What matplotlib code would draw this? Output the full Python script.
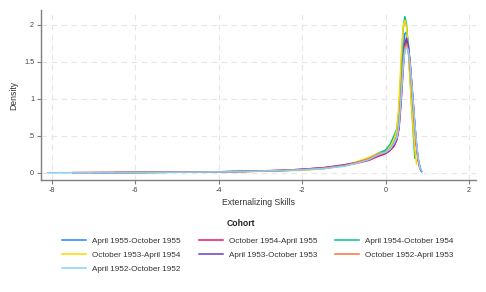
import numpy as np
import matplotlib
matplotlib.use("Agg")
import matplotlib.pyplot as plt

nan = np.nan

# common grid of externalizing skill values
skill = [-8.1, -7.5, -7, -6.5, -6, -5.5, -5, -4.5, -4, -3.5, -3, -2.5, -2, -1.5, -1,
         -0.7, -0.4, -0.2, 0, 0.1, 0.2, 0.27, 0.32, 0.37, 0.42, 0.46, 0.5, 0.54,
         0.58, 0.62, 0.66, 0.7, 0.74, 0.78, 0.82, 0.86]

apr1955_oct1955 = [nan, nan, 0.004, 0.005, 0.007, 0.008, 0.01, 0.012, 0.014, 0.02, 0.025, 0.032,
                   0.045, 0.06, 0.1, 0.14, 0.19, 0.25, 0.29, 0.33, 0.42, 0.5, 0.72, 1.15, 1.65,
                   1.88, 1.9, 1.76, 1.5, 1.2, 0.92, 0.62, 0.36, 0.18, 0.07, 0.02]
oct1954_apr1955 = [nan, 0.004, 0.005, 0.006, 0.007, 0.009, 0.01, 0.012, 0.015, 0.02, 0.028, 0.035,
                   0.048, 0.07, 0.1, 0.13, 0.17, 0.22, 0.26, 0.3, 0.36, 0.45, 0.6, 0.95, 1.4,
                   1.7, 1.77, 1.7, 1.52, 1.25, 0.95, 0.64, 0.37, 0.18, 0.07, nan]
apr1954_oct1954 = [nan, nan, nan, nan, 0.006, 0.008, 0.01, 0.012, 0.015, 0.02, 0.026, 0.03,
                   0.042, 0.06, 0.1, 0.14, 0.2, 0.26, 0.31, 0.38, 0.5, 0.6, 0.85, 1.4, 1.95,
                   2.11, 2.0, 1.72, 1.32, 0.92, 0.55, 0.2, nan, nan, nan, nan]
oct1953_apr1954 = [nan, nan, nan, 0.004, 0.006, 0.008, 0.01, 0.013, 0.016, 0.02, 0.022, 0.03,
                   0.035, 0.058, 0.1, 0.15, 0.21, 0.26, 0.28, 0.34, 0.45, 0.58, 0.95, 1.55, 1.98,
                   2.06, 1.97, 1.68, 1.3, 0.92, 0.6, 0.32, 0.12, nan, nan, nan]
apr1953_oct1953 = [nan, nan, nan, 0.005, 0.008, 0.01, 0.012, 0.014, 0.016, 0.02, 0.026, 0.034,
                   0.05, 0.07, 0.11, 0.14, 0.18, 0.24, 0.27, 0.31, 0.38, 0.46, 0.62, 1.0, 1.45,
                   1.75, 1.82, 1.73, 1.52, 1.23, 0.93, 0.63, 0.37, 0.19, 0.07, 0.02]
oct1952_apr1953 = [nan, 0.004, 0.005, 0.006, 0.007, 0.008, 0.01, 0.012, 0.014, 0.018, 0.024, 0.032,
                   0.045, 0.065, 0.1, 0.14, 0.19, 0.25, 0.28, 0.32, 0.4, 0.48, 0.68, 1.1, 1.5,
                   1.7, 1.74, 1.65, 1.45, 1.17, 0.88, 0.6, 0.34, 0.16, 0.06, nan]
apr1952_oct1952 = [0.003, 0.003, 0.004, 0.005, 0.006, 0.008, 0.01, 0.012, 0.014, 0.018, 0.025, 0.032,
                   0.042, 0.058, 0.09, 0.13, 0.18, 0.24, 0.28, 0.32, 0.4, 0.48, 0.65, 1.02, 1.45,
                   1.65, 1.7, 1.66, 1.5, 1.24, 0.95, 0.66, 0.4, 0.2, 0.08, 0.03]

cohorts = ["April 1955-October 1955", "October 1954-April 1955", "April 1954-October 1954",
           "October 1953-April 1954", "April 1953-October 1953", "October 1952-April 1953",
           "April 1952-October 1952"]
series = [apr1955_oct1955, oct1954_apr1955, apr1954_oct1954, oct1953_apr1954,
          apr1953_oct1953, oct1952_apr1953, apr1952_oct1952]
colors = ["#1e88ff", "#e8175d", "#00c486", "#ffd700", "#6a3fc8", "#ff6f3c", "#87cefa"]

x_ticks = [-8, -6, -4, -2, 0, 2]
y_ticks = [0, 0.5, 1, 1.5, 2]
y_labels = ["0", ".5", "1", "1.5", "2"]

plt.rcParams["font.family"] = ["Liberation Sans", "DejaVu Sans"]

fig = plt.figure(figsize=(4.86, 2.92), dpi=100)
ax = fig.add_axes([0.0844, 0.3836, 0.8946, 0.5824])

handles = {}
for name, vals, col in zip(cohorts, series, colors):
    h, = ax.plot(skill, vals, color=col, lw=1.1)
    handles[name] = h

ax.set_xlim(-8.26, 2.16)
ax.set_ylim(-0.095, 2.2)
ax.set_xticks(x_ticks)
ax.set_xticklabels([str(t) for t in x_ticks])
ax.set_yticks(y_ticks)
ax.set_yticklabels(y_labels)
ax.grid(True, color="#e6e6e6", linestyle=(0, (5, 4)), linewidth=0.8)
ax.set_axisbelow(True)

for s in ["top", "right"]:
    ax.spines[s].set_visible(False)
for s in ["left", "bottom"]:
    ax.spines[s].set_color("#7f7f7f")
    ax.spines[s].set_linewidth(1.0)
ax.tick_params(colors="#444444", labelsize=5.2, length=3, width=0.8, pad=2)
ax.tick_params(axis="both", color="#7f7f7f")

ax.set_xlabel("Externalizing Skills", fontsize=6.2, color="#333333", labelpad=3)
ax.set_ylabel("Density", fontsize=6.2, color="#333333", labelpad=4)

# legend title placed separately, entries in Stata row order (columns filled first)
fig.text(0.496, 1 - 223 / 292, "Cohort", fontsize=6.2, fontweight="bold",
         color="#222222", ha="center", va="center")
order = [0, 3, 6, 1, 4, 2, 5]
leg = fig.legend([handles[cohorts[i]] for i in order], [cohorts[i] for i in order],
                 loc="upper left", bbox_to_anchor=(0.1285, 0.188), ncol=3, frameon=False,
                 fontsize=5.9, handlelength=2.9, handletextpad=0.75,
                 columnspacing=2.2, labelspacing=0.75, borderaxespad=0, borderpad=0)
for t in leg.get_texts():
    t.set_color("#333333")

fig.savefig("out.png", dpi=100)
